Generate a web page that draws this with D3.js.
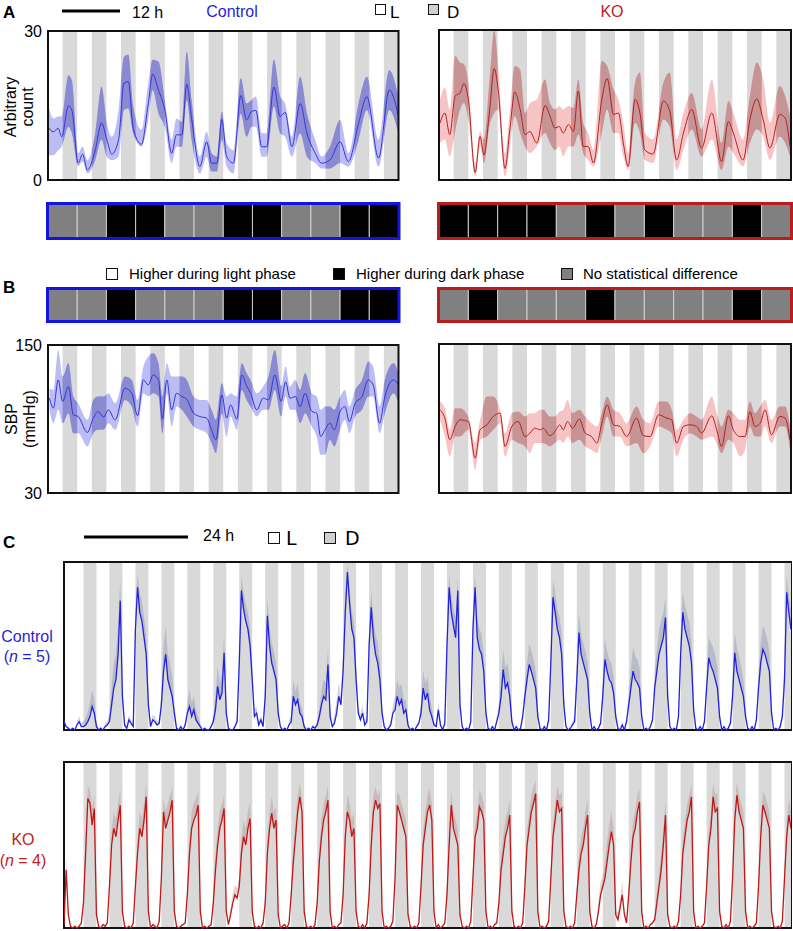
<!DOCTYPE html>
<html><head><meta charset="utf-8">
<script src="https://cdn.jsdelivr.net/npm/d3@7"></script>
<style>body{margin:0;background:#fff}svg{display:block}</style>
</head><body><script>
// ---------------- DATA ----------------
// Panels A/B: hours over 12 short LD cycles (3 h light : 3 h dark)
const darkAB = [3,9,15,21,27,33,39,45,51,57,63,69];
const darkC = [4.5,10.5,16.5,22.5,28.5,34.5,40.5,46.5,52.5,58.5,64.5,70.5,76.5,82.5,88.5,94.5,100.5,106.5,112.5,118.5,124.5,130.5,136.5,142.5,148.5,154.5,160.5,166.5];
const darkLen = 3;
const ticksA = [0,30];
const ticksB = [30,150];

// A control (arbitrary count)
const tAC = [0,1.1,2.1,2.8,4.2,4.9,6.2,7.1,8.1,9.7,11.0,12.1,13.1,14.5,15.6,16.5,17.5,19.2,20.6,21.5,22.7,24.0,25.4,26.4,27.5,28.5,29.5,31.2,32.6,33.6,34.7,35.7,36.7,38.1,39.6,40.8,41.8,42.7,43.9,44.9,46.4,47.7,48.7,50.1,51.8,53.2,54.9,56.2,57.9,60.0,61.7,63.8,65.5,67.9,70.1,72.0];
const mAC = [10.7,9.7,10.4,8.7,14.9,14.1,3.4,5.2,2.0,6.0,11.5,8.1,5.2,8.1,19.5,19.8,10.4,7.2,15.4,21.3,18.1,14.1,5.4,9.1,9.1,19.3,12.4,2.7,7.7,3.4,3.4,12.2,4.7,3.4,17.0,12.1,13.8,14.0,6.7,6.7,18.7,12.8,13.6,6.7,15.4,9.4,5.4,3.4,4.0,7.7,3.7,11.4,16.8,4.4,18.1,12.8];
const uAC = [15.4,12.4,12.8,12.8,21.1,20.1,5.4,6.7,4.0,9.4,18.8,11.4,8.7,14.1,24.8,25.2,14.8,10.1,19.5,24.2,23.8,16.1,8.1,12.4,11.7,25.8,16.1,4.7,9.7,5.4,4.7,13.8,7.4,6.0,20.5,15.4,16.1,16.8,9.4,9.4,24.2,16.8,15.4,8.7,20.8,13.4,8.1,4.7,6.7,12.1,5.4,15.4,20.8,8.1,22.1,16.8];
const lAC = [5.0,5.0,6.0,6.7,10.7,9.4,2.7,3.7,1.3,4.0,8.1,4.7,4.0,4.7,14.1,14.4,9.4,6.7,12.1,18.1,13.4,10.7,3.4,6.7,6.7,16.1,8.1,1.3,4.7,1.7,1.7,8.1,2.7,1.3,13.4,8.7,10.7,10.7,4.7,4.7,14.8,9.4,8.7,4.7,9.4,4.7,3.4,2.3,2.3,3.4,2.7,8.1,14.1,2.7,14.1,9.4];

// A KO
const tAK = [0.2,1.2,2.2,3.3,4.3,5.1,6.0,7.4,8.4,9.2,10.3,11.3,12.1,13.5,14.5,15.5,16.6,17.6,18.6,20.0,21.7,22.7,23.7,24.6,25.4,26.5,27.5,28.5,29.5,30.5,31.6,33.3,34.4,35.7,36.7,37.7,38.7,40.1,41.1,42.1,43.8,45.9,47.2,48.6,50.0,51.7,53.7,55.8,57.8,59.2,60.2,62.2,63.6,65.0,66.3,67.7,69.7,70.8,71.8];
const mAK = [11.4,13.4,9.1,16.8,17.4,19.3,16.1,1.5,8.7,5.0,13.4,22.3,18.1,2.3,10.1,17.6,14.1,9.1,9.7,7.4,14.9,12.8,10.4,10.7,9.4,11.1,9.7,17.8,6.7,6.7,3.4,16.1,20.3,13.1,13.4,7.4,2.7,16.1,13.4,6.0,5.2,15.8,13.8,4.0,9.4,14.1,6.4,13.4,3.7,11.7,9.4,4.0,12.1,16.2,12.1,6.4,13.1,12.4,6.7];
const uAK = [16.1,18.5,14.1,24.8,23.5,23.2,19.5,3.4,9.7,8.1,19.5,29.9,22.8,5.4,14.1,22.8,22.1,13.4,15.4,16.1,20.1,15.4,14.1,14.8,14.1,14.8,14.4,20.1,11.4,9.4,6.0,23.8,22.8,18.1,16.1,11.4,5.4,19.5,21.5,9.4,8.1,19.5,21.5,8.1,13.4,17.4,10.1,20.1,7.4,15.8,13.4,8.1,16.8,23.5,20.1,11.4,18.8,16.8,12.8];
const lAK = [7.4,8.1,4.7,9.7,14.1,15.4,12.1,0.7,6.7,3.4,10.7,13.4,14.1,0.7,6.7,12.8,9.4,6.7,5.4,6.7,9.4,7.4,6.0,6.7,4.7,6.7,6.7,9.1,5.4,4.0,2.7,9.4,14.1,9.4,9.4,4.7,2.0,11.4,9.4,4.0,3.4,12.1,10.7,2.0,6.0,10.1,4.7,8.1,2.0,6.7,5.4,2.7,7.4,10.1,8.7,4.0,8.7,7.4,4.7];

// B control (SBP, mmHg)
const tBC = [0.3,1.1,2.1,3.0,4.2,5.2,6.2,8.1,9.3,10.3,11.4,12.4,13.8,15.8,17.2,18.4,19.6,20.6,21.6,22.7,23.5,24.4,25.4,26.4,27.5,28.5,29.9,31.2,32.6,33.6,34.5,35.7,36.7,37.5,38.8,39.8,40.8,41.6,42.9,44.2,45.3,46.6,47.9,48.8,49.7,50.8,51.8,52.8,54.2,55.2,56.0,56.9,57.9,58.8,60.0,61.0,61.9,63.1,64.5,65.8,66.8,68.1,69.2,71.0,72.0];
const mBC = [106.9,98.8,121.7,104.2,116.3,93.4,92.0,79.1,90.7,96.1,91.5,97.4,89.3,114.9,110.9,92.6,121.7,117.6,125.7,121.7,89.9,121.7,97.4,110.9,108.2,106.0,94.7,92.0,90.7,81.2,73.1,109.5,90.7,101.5,89.9,125.7,116.8,110.9,97.4,106.9,105.5,125.7,104.2,120.3,106.9,108.2,100.1,110.9,96.1,94.7,75.8,81.2,86.6,81.2,96.1,100.1,87.9,102.8,108.2,121.7,117.6,86.6,108.2,121.7,117.6];
const uBC = [115,113.6,146,124.4,135.2,108.2,102.8,89.3,105.5,108.2,108.2,110.9,102.8,124.4,121.7,105.5,132.5,140.6,143.3,135.2,108.2,135.2,124.4,124.4,124.4,121.7,108.2,105.5,105.5,97.4,89.3,119,108.2,110.9,108.2,135.2,127.1,121.7,110.9,116.3,124.4,146,116.3,132.5,116.3,121.7,113.6,127.1,110.9,108.2,97.4,100.1,100.1,97.4,108.2,113.6,100.1,113.6,121.7,136.5,132.5,100.1,121.7,135.2,127.1];
const lBC = [97.4,86.6,97.4,86.6,94.7,78.5,78.5,67.7,78.5,81.2,81.2,86.6,81.2,105.5,100.1,83.9,110.9,108.2,110.9,108.2,78.5,110.9,83.9,100.1,97.4,92.0,83.9,81.2,78.5,70.4,62.4,94.7,75.8,92.0,81.2,113.6,105.5,100.1,92.0,97.4,97.4,113.6,92.0,108.2,97.4,97.4,86.6,94.7,83.9,75.8,61.0,61.0,73.1,67.7,81.2,89.3,78.5,92.0,97.4,108.2,108.2,78.5,94.7,110.9,102.8];

// B KO
const tBK = [0.2,1.2,2.2,3.3,4.3,6.0,7.4,8.4,9.8,11.1,12.5,13.5,14.9,16.2,17.6,18.6,19.6,20.7,21.3,22.7,23.7,24.7,25.4,26.3,27.3,28.7,29.9,31.2,32.3,33.3,34.4,35.7,37.0,38.4,40.4,41.8,43.2,44.9,46.6,47.6,48.6,50.0,51.3,52.7,53.7,55.8,56.8,57.8,59.2,60.2,61.6,62.6,63.6,64.6,65.7,66.7,68.0,69.7,70.8,71.8];
const mBK = [97.0,90.3,72.9,83.6,88.9,87.6,58.1,80.9,84.9,91.6,94.3,67.5,83.6,87.6,75.5,78.2,82.2,80.9,82.2,76.1,79.5,84.9,80.9,87.6,82.2,89.5,78.2,75.5,70.2,86.2,101.0,84.9,83.6,75.5,90.3,76.1,75.5,93.0,90.3,88.9,70.2,83.6,84.9,83.6,78.2,92.1,80.9,67.5,92.1,80.9,75.5,75.5,95.6,83.6,86.2,97.0,76.9,91.6,90.3,72.9];
const uBK = [103.7,98.3,80.9,98.3,98.3,91.6,70.2,88.9,107.7,107.7,97.0,78.2,94.3,95.6,91.6,94.3,94.3,97.0,97.0,91.6,91.6,95.6,97.0,105.0,94.3,97.0,91.6,86.2,83.6,94.3,107.7,97.0,94.3,86.2,99.6,88.9,86.2,103.7,103.7,97.0,80.9,88.9,94.3,91.6,88.9,107.7,94.3,83.6,97.0,94.3,88.9,88.9,103.7,94.3,99.6,105.0,88.9,99.6,99.6,83.6];
const lBK = [88.9,75.5,59.5,75.5,75.5,80.9,48.7,72.9,75.5,80.9,86.2,59.5,72.9,70.2,67.5,62.1,70.2,70.2,70.2,67.5,70.2,72.9,70.2,75.5,70.2,72.9,67.5,64.8,62.1,75.5,91.6,75.5,75.5,67.5,70.2,62.1,67.5,83.6,80.9,78.2,59.5,72.9,78.2,75.5,72.9,75.5,70.2,62.1,72.9,70.2,59.5,64.8,83.6,75.5,75.5,83.6,70.2,83.6,83.6,64.8];

// Phase comparison per cycle: n = no difference, d = higher in dark, l = higher in light
const rowACtrl = ['n','n','d','d','n','n','d','d','n','n','d','d'];
const rowAKO   = ['d','d','d','d','n','d','n','d','n','n','d','n'];
const rowBCtrl = ['n','n','d','n','n','n','d','d','n','n','d','d'];
const rowBKO   = ['n','d','n','n','n','d','n','n','n','n','d','n'];

// Panel C: activity sampled every 0.5 h over 168 h
const stepC = 0.5;
const ctrlC = [5,2,1,0,1,0,3,5,2,
 2,3,5,8,14,10,2, 0,1,0,2,3,
 5,15,25,30,45,77,20, 3,1,6,4,2,
 60,85,70,65,55,45,15, 2,6,5,3,4,
 15,35,45,30,25,20,10, 1,0,2,0,3,
 10,14,8,12,6,4,2, 0,1,0,0,2,
 5,12,26,18,22,46,10, 1,0,0,2,5,
 40,83,72,65,60,50,30, 8,10,3,6,2,
 20,68,50,40,35,30,10, 2,0,1,0,3,
 5,20,15,18,10,8,2, 0,1,0,2,1,
 3,8,15,20,18,39,8, 2,4,10,20,15,
 35,70,94,75,60,55,30, 10,6,10,3,5,
 50,73,55,45,40,30,10, 2,0,1,3,10,
 12,20,15,18,10,12,3, 0,1,0,2,4,
 10,25,18,22,12,8,3, 2,12,3,0,4,
 50,85,70,62,55,83,15, 2,0,1,0,5,
 60,85,55,48,45,35,10, 1,0,2,0,5,
 10,20,36,25,28,20,5, 0,2,0,1,8,
 20,30,39,35,30,25,8, 1,0,2,0,6,
 40,79,70,60,55,45,15, 2,0,1,3,5,
 30,58,45,40,35,30,10, 0,2,0,1,4,
 20,42,35,30,28,22,8, 1,0,3,0,5,
 15,25,35,30,28,25,8, 0,1,0,2,6,
 25,35,45,50,55,67,20, 2,0,1,0,8,
 45,70,60,55,50,40,12, 1,0,2,0,5,
 25,43,38,35,30,25,8, 0,2,0,1,4,
 20,46,35,30,25,20,8, 1,0,2,0,6,
 25,40,48,45,40,35,10, 0,1,0,2,8,
 30,82,70,60];
const semCtrlC = [2,1,1,0,1,0,2,3,2,
 3,4,6,8,10,8,3, 1,1,0,2,2,
 5,10,15,15,18,12,8, 2,1,3,2,2,
 12,8,12,12,12,12,8, 2,3,3,2,2,
 8,15,17,15,15,12,6, 1,0,1,0,2,
 6,10,8,8,6,4,2, 0,1,0,0,1,
 4,8,12,10,12,10,5, 1,0,0,1,3,
 10,8,10,10,10,10,10, 4,4,2,3,1,
 10,10,12,12,12,10,6, 1,0,1,0,2,
 4,10,8,10,6,5,2, 0,1,0,1,1,
 2,5,8,10,10,10,4, 1,5,8,8,5,
 12,10,5,8,10,10,10, 5,3,5,2,3,
 10,10,12,12,12,10,5, 1,0,1,2,5,
 8,10,10,10,8,6,2, 0,1,0,1,2,
 6,10,10,10,8,5,2, 1,5,2,0,2,
 10,8,10,10,12,8,8, 1,0,1,0,3,
 10,8,12,12,12,10,5, 1,0,1,0,3,
 6,10,12,12,12,10,3, 0,1,0,1,4,
 8,10,12,12,12,10,4, 1,0,1,0,3,
 10,10,12,12,12,12,8, 1,0,1,2,3,
 10,12,12,12,12,10,5, 0,1,0,1,2,
 8,12,12,12,12,10,4, 1,0,2,0,3,
 8,12,14,14,14,12,4, 0,1,0,1,3,
 10,12,15,15,15,12,8, 1,0,1,0,4,
 12,12,14,14,14,12,6, 1,0,1,0,3,
 10,12,14,14,14,12,4, 0,1,0,1,2,
 10,12,14,14,12,10,4, 1,0,1,0,3,
 10,12,14,14,14,12,5, 0,1,0,1,4,
 12,10,12,12];
const koC = [2,35,8,1,0,1,0,1,3,
 15,45,78,75,62,72,8, 1,0,2,1,3,
 25,50,60,55,65,74,10, 1,0,1,0,3,
 25,45,60,55,65,79,10, 0,2,1,0,4,
 30,70,60,65,70,77,10, 1,0,1,2,3,
 20,45,60,65,68,74,10, 0,1,0,1,2,
 15,35,50,60,65,72,10, 2,8,15,20,18,
 25,45,55,50,60,66,10, 1,0,1,0,3,
 15,45,60,69,60,65,8, 0,1,2,0,3,
 20,40,55,70,79,70,10, 1,0,1,0,2,
 15,40,55,65,70,77,10, 0,1,0,2,3,
 20,55,70,65,55,60,10, 1,0,2,0,3,
 20,50,70,77,72,75,10, 0,1,0,1,4,
 30,74,70,65,60,55,8, 1,0,1,0,3,
 25,50,60,70,74,65,10, 0,2,0,1,3,
 20,50,74,60,55,50,8, 1,0,1,0,4,
 30,55,60,73,70,65,10, 0,1,0,2,3,
 15,35,45,55,60,68,10, 1,0,1,0,3,
 25,50,60,70,75,81,10, 0,1,0,1,4,
 30,55,65,77,70,72,10, 1,0,1,0,3,
 20,35,45,50,60,68,10, 1,0,2,10,20,
 25,30,40,50,58,50,8, 5,12,20,8,3,
 20,40,55,60,70,76,10, 0,1,0,2,3,
 5,15,25,35,50,68,8, 1,0,1,0,4,
 20,45,55,65,70,79,10, 0,1,0,1,3,
 25,50,60,79,70,72,10, 1,0,2,0,4,
 30,65,80,70,65,60,10, 0,1,0,1,3,
 25,55,74,70,65,60,10, 1,0,1,0,4,
 30,55,68,60];
const semKoC = [1,8,3,1,0,1,0,1,1,
 5,8,8,8,10,8,3, 1,0,1,1,1,
 6,8,10,10,10,10,3, 1,0,1,0,1,
 6,8,10,10,10,8,3, 0,1,1,0,2,
 6,8,10,10,10,8,3, 1,0,1,1,1,
 5,8,10,10,10,8,3, 0,1,0,1,1,
 5,8,10,10,10,8,3, 1,4,6,6,6,
 6,8,10,10,10,10,3, 1,0,1,0,1,
 5,8,10,10,10,8,3, 0,1,1,0,1,
 5,8,10,10,8,8,3, 1,0,1,0,1,
 5,8,10,10,10,8,3, 0,1,0,1,1,
 6,8,10,10,10,10,3, 1,0,1,0,1,
 6,8,10,8,8,8,3, 0,1,0,1,2,
 6,8,10,10,10,10,3, 1,0,1,0,1,
 6,8,10,10,10,10,3, 0,1,0,1,1,
 6,8,8,10,10,10,3, 1,0,1,0,2,
 6,8,10,10,10,10,3, 0,1,0,1,1,
 5,8,10,10,10,10,3, 1,0,1,0,1,
 6,8,10,10,10,8,3, 0,1,0,1,2,
 6,8,10,8,10,10,3, 1,0,1,0,1,
 5,8,10,10,10,10,3, 1,0,1,6,8,
 6,10,12,12,12,10,3, 4,6,8,4,1,
 5,8,10,10,10,8,3, 0,1,0,1,1,
 3,6,8,10,10,8,3, 1,0,1,0,2,
 5,8,10,10,10,8,3, 0,1,0,1,1,
 6,8,10,8,10,10,3, 1,0,1,0,2,
 6,8,8,10,10,10,3, 0,1,0,1,1,
 6,8,8,10,10,10,3, 1,0,1,0,2,
 6,8,10,10];

// ---------------- DRAWING ----------------
const FONT = '"Liberation Sans", Arial, Helvetica, sans-serif';
const BLUE = '#1f1fd6', RED = '#c0201e';
const STRIPE = '#d9d9d9';
const svg = d3.select('body').append('svg').attr('width', 793).attr('height', 931);
const defs = svg.append('defs');

function txt(x, y, s, o = {}) {
  const t = svg.append('text').attr('x', x).attr('y', y)
    .attr('font-family', o.family || FONT).attr('font-size', o.size || 16)
    .attr('fill', o.fill || '#000').attr('text-anchor', o.anchor || 'start');
  if (o.bold) t.attr('font-weight', 'bold');
  t.text(s);
  return t;
}
function box(x, y, s, fill) {
  svg.append('rect').attr('x', x + 0.5).attr('y', y + 0.5).attr('width', s).attr('height', s)
    .attr('fill', fill).attr('stroke', '#111').attr('stroke-width', 1);
}

function smoothPanel(cfg) {
  const {id, x0, x1, y0, y1, ydom, t, m, u, l, col, ticks} = cfg;
  const xs = d3.scaleLinear().domain([0, 72]).range([x0, x1]);
  const ys = d3.scaleLinear().domain(ydom).range([y1, y0]);
  defs.append('clipPath').attr('id', 'bx' + id).append('rect')
    .attr('x', x0).attr('y', y0).attr('width', x1 - x0).attr('height', y1 - y0);
  const cp = defs.append('clipPath').attr('id', 'dk' + id);
  cp.selectAll('rect').data(darkAB).join('rect')
    .attr('x', d => xs(d)).attr('y', y0).attr('width', d => xs(d + darkLen) - xs(d)).attr('height', y1 - y0);
  const g = svg.append('g').attr('clip-path', `url(#bx${id})`);
  g.selectAll('rect.st').data(darkAB).join('rect').attr('class', 'st')
    .attr('x', d => xs(d)).attr('y', y0).attr('width', d => xs(d + darkLen) - xs(d)).attr('height', y1 - y0)
    .attr('fill', STRIPE);
  const idx = d3.range(t.length);
  const area = d3.area().x(i => xs(t[i])).y0(i => ys(l[i])).y1(i => ys(u[i])).curve(d3.curveMonotoneX);
  g.append('path').attr('d', area(idx)).attr('fill', col.band);
  g.append('g').attr('clip-path', `url(#dk${id})`).append('path').attr('d', area(idx)).attr('fill', col.bandDark);
  const line = d3.line().x(i => xs(t[i])).y(i => ys(m[i])).curve(d3.curveMonotoneX);
  g.append('path').attr('d', line(idx)).attr('fill', 'none').attr('stroke', col.line).attr('stroke-width', 1);
  svg.append('rect').attr('x', x0).attr('y', y0).attr('width', x1 - x0).attr('height', y1 - y0)
    .attr('fill', 'none').attr('stroke', '#111').attr('stroke-width', 2);
  if (ticks) {
    const ax = svg.append('g').attr('transform', `translate(${x0},0)`)
      .call(d3.axisLeft(ys).tickValues(ticks).tickSize(0).tickPadding(6));
    ax.select('.domain').remove();
    ax.selectAll('text').attr('font-size', 16).attr('font-family', FONT).attr('fill', '#000');
  }
  return xs;
}

function phaseRow(xs, y, h, codes, border) {
  const fillOf = {n: '#808080', d: '#000000', l: '#ffffff'};
  const g = svg.append('g');
  g.selectAll('rect').data(codes).join('rect')
    .attr('x', (d, i) => xs(i * 6)).attr('y', y).attr('width', (d, i) => xs(i * 6 + 6) - xs(i * 6)).attr('height', h)
    .attr('fill', d => fillOf[d]).attr('stroke', '#cfcfcf').attr('stroke-width', 1);
  const [a, b] = xs.range();
  g.append('rect').attr('x', a - 0.5).attr('y', y - 0.5).attr('width', b - a + 1).attr('height', h + 1)
    .attr('fill', 'none').attr('stroke', border).attr('stroke-width', 3);
}

function actPanel(cfg) {
  const {id, x0, x1, y0, y1, vals, sem, lineCol, semCol} = cfg;
  const xs = d3.scaleLinear().domain([0, 168]).range([x0, x1]);
  const ys = d3.scaleLinear().domain([0, 100]).range([y1, y0]);
  defs.append('clipPath').attr('id', 'bx' + id).append('rect')
    .attr('x', x0).attr('y', y0).attr('width', x1 - x0).attr('height', y1 - y0 + 1);
  svg.append('rect').attr('x', x0).attr('y', y0).attr('width', x1 - x0).attr('height', y1 - y0)
    .attr('fill', 'none').attr('stroke', '#111').attr('stroke-width', 2);
  const g = svg.append('g').attr('clip-path', `url(#bx${id})`);
  g.selectAll('rect.st').data(darkC).join('rect').attr('class', 'st')
    .attr('x', d => xs(d)).attr('y', y0 + 1).attr('width', d => xs(d + darkLen) - xs(d)).attr('height', y1 - y0 - 2)
    .attr('fill', STRIPE);
  const idx = d3.range(vals.length);
  const area = d3.area().x(i => xs(i * stepC)).y0(i => ys(vals[i])).y1(i => ys(vals[i] + sem[i]));
  g.append('path').attr('d', area(idx)).attr('fill', semCol).attr('fill-opacity', 0.35);
  const line = d3.line().x(i => xs(i * stepC)).y(i => ys(vals[i]));
  g.append('path').attr('d', line(idx)).attr('fill', 'none').attr('stroke', lineCol).attr('stroke-width', 1.3)
    .attr('stroke-linejoin', 'miter');
}

// ---- Panel A ----
txt(3, 18, 'A', {bold: true, size: 17});
svg.append('line').attr('x1', 62).attr('x2', 120).attr('y1', 11).attr('y2', 11).attr('stroke', '#000').attr('stroke-width', 3);
txt(132, 18, '12 h', {size: 16});
txt(232, 17, 'Control', {size: 16, fill: BLUE, anchor: 'middle'});
box(375, 4, 10, '#fff');
txt(390, 18, 'L', {size: 17});
box(428, 4, 10, '#d0d0d0');
txt(447, 18, 'D', {size: 17});
txt(612, 17, 'KO', {size: 16, fill: RED, anchor: 'middle'});

const blueCols = {band: '#bdbdf6', bandDark: '#8a8ad2', line: '#3434d8'};
const redCols = {band: '#f6c4c4', bandDark: '#c69494', line: '#b51f1f'};

const xA1 = smoothPanel({id: 'a1', x0: 48, x1: 398.5, y0: 31, y1: 180, ydom: [0, 30], t: tAC, m: mAC, u: uAC, l: lAC, col: blueCols, ticks: ticksA});
const xA2 = smoothPanel({id: 'a2', x0: 439, x1: 791, y0: 30, y1: 180, ydom: [0, 30], t: tAK, m: mAK, u: uAK, l: lAK, col: redCols});
const yl = svg.append('text').attr('transform', 'translate(16,107) rotate(-90)')
  .attr('font-family', FONT).attr('font-size', 16).attr('text-anchor', 'middle');
yl.append('tspan').attr('x', 0).attr('y', 0).text('Arbitrary');
yl.append('tspan').attr('x', 0).attr('y', 17).text('count');

phaseRow(xA1, 204, 34, rowACtrl, '#1414e0');
phaseRow(xA2, 204, 34, rowAKO, '#bb1c1c');

// legend
box(106, 268, 11, '#fff');
txt(129, 279, 'Higher during light phase', {size: 15});
box(333, 268, 11, '#000');
txt(356, 279, 'Higher during dark phase', {size: 15});
box(561, 268, 11, '#808080');
txt(583, 279, 'No statistical difference', {size: 15});

// ---- Panel B ----
txt(3, 293, 'B', {bold: true, size: 17});
phaseRow(xA1, 289, 32, rowBCtrl, '#1414e0');
phaseRow(xA2, 289, 32, rowBKO, '#bb1c1c');
smoothPanel({id: 'b1', x0: 48, x1: 398.5, y0: 345, y1: 493, ydom: [30, 150], t: tBC, m: mBC, u: uBC, l: lBC, col: blueCols, ticks: ticksB});
smoothPanel({id: 'b2', x0: 439, x1: 791, y0: 344, y1: 493, ydom: [30, 150], t: tBK, m: mBK, u: uBK, l: lBK, col: redCols});
const yl2 = svg.append('text').attr('transform', 'translate(17,419) rotate(-90)')
  .attr('font-family', FONT).attr('font-size', 16).attr('text-anchor', 'middle');
yl2.append('tspan').attr('x', 0).attr('y', 0).text('SBP');
yl2.append('tspan').attr('x', 0).attr('y', 18).text('(mmHg)');

// ---- Panel C ----
txt(3, 548, 'C', {bold: true, size: 17});
svg.append('line').attr('x1', 84).attr('x2', 188).attr('y1', 537).attr('y2', 537).attr('stroke', '#000').attr('stroke-width', 3);
txt(203, 541, '24 h', {size: 16});
box(268, 532, 11, '#fff');
txt(286, 545, 'L', {size: 19, family: '"DejaVu Sans", sans-serif'});
box(324, 532, 11, '#d0d0d0');
txt(345, 545, 'D', {size: 19, family: '"DejaVu Sans", sans-serif'});

actPanel({id: 'c1', x0: 64, x1: 791, y0: 562, y1: 730, vals: ctrlC, sem: semCtrlC, lineCol: '#2222dd', semCol: '#7c86a8'});
actPanel({id: 'c2', x0: 64, x1: 791, y0: 762, y1: 928, vals: koC, sem: semKoC, lineCol: '#c01818', semCol: '#b08080'});

txt(27, 642, 'Control', {size: 16, fill: BLUE, anchor: 'middle'});
const n1 = txt(27, 662, '', {size: 16, fill: BLUE, anchor: 'middle'});
n1.append('tspan').text('(');
n1.append('tspan').attr('font-style', 'italic').text('n');
n1.append('tspan').text(' = 5)');
txt(23, 845, 'KO', {size: 16, fill: RED, anchor: 'middle'});
const n2 = txt(23, 866, '', {size: 16, fill: RED, anchor: 'middle'});
n2.append('tspan').text('(');
n2.append('tspan').attr('font-style', 'italic').text('n');
n2.append('tspan').text(' = 4)');
</script></body></html>
